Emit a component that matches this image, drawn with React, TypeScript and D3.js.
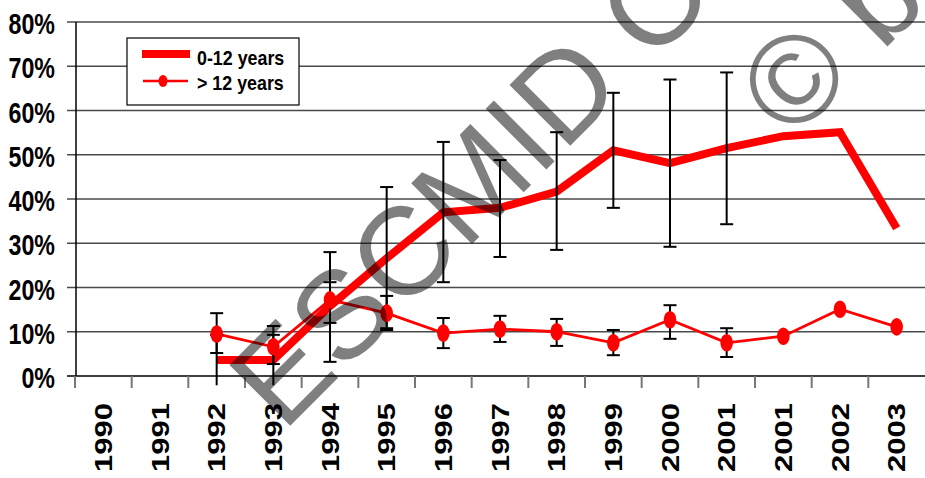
import React from "react";
import * as d3 from "d3";

const years = ["1990", "1991", "1992", "1993", "1994", "1995", "1996", "1997", "1998", "1999", "2000", "2001", "2001", "2002", "2003"];
const yTicks = [0, 10, 20, 30, 40, 50, 60, 70, 80];

// 0-12 years
const kidsValue: (number | null)[] = [null, null, 3.6, 3.6, 15.8, 26.6, 37, 38, 41.7, 51, 48.1, 51.5, 54.2, 55.1, 33.4];
const kidsLow: (number | null)[] = [null, null, -2.1, -2.1, 3.2, 10.4, 21.2, 26.9, 28.5, 38, 29.2, 34.3, null, null, null];
const kidsHigh: (number | null)[] = [null, null, 9.3, 9.3, 28, 42.7, 52.9, 48.8, 55.1, 64, 67, 68.6, null, null, null];

// > 12 years
const adultValue: (number | null)[] = [null, null, 9.5, 6.6, 17.2, 14.2, 9.7, 10.6, 10.0, 7.5, 12.7, 7.5, 9.0, 15.1, 11.1];
const adultLow: (number | null)[] = [null, null, 5.2, 2.7, 12.0, 10.8, 6.3, 7.7, 6.8, 4.7, 8.4, 4.3, null, null, null];
const adultHigh: (number | null)[] = [null, null, 14.2, 11.3, 21.2, 18.1, 13.1, 13.6, 12.9, 10.4, 16.0, 10.8, null, null, null];

const seriesNames = ["0-12 years", "> 12 years"];
const watermarkLines = ["ESCMID Online Lecture Library", "\u00A9 by author"];

const W = 925;
const H = 478;

export default function App() {
  const idx = years.map((_, i) => String(i));
  const x = d3.scaleBand<string>().domain(idx).range([75, 925]).padding(0);
  const y = d3.scaleLinear().domain([0, 80]).range([376, 22]);
  const cx = (i: number) => (x(String(i)) as number) + x.bandwidth() / 2;

  const lineGen = d3
    .line<[number, number | null]>()
    .defined((d) => d[1] !== null)
    .x((d) => cx(d[0]))
    .y((d) => y(d[1] as number));

  const kidsPath = lineGen(kidsValue.map((v, i) => [i, v]));
  const adultPath = lineGen(adultValue.map((v, i) => [i, v]));

  const font = "'Liberation Sans', Arial, sans-serif";
  const capW = 6.5;

  const errorBars = (vals: (number | null)[], lo: (number | null)[], hi: (number | null)[], key: string) =>
    vals.map((v, i) => {
      if (v === null || lo[i] === null || hi[i] === null) return null;
      const l = lo[i] as number;
      const h = hi[i] as number;
      const xc = cx(i);
      return (
        <g key={key + i} stroke="#000" strokeWidth={2}>
          <line x1={xc} x2={xc} y1={y(l)} y2={y(h)} />
          <line x1={xc - capW} x2={xc + capW} y1={y(h)} y2={y(h)} />
          {l >= 0 && <line x1={xc - capW} x2={xc + capW} y1={y(l)} y2={y(l)} />}
        </g>
      );
    });

  return (
    <svg width={W} height={H} style={{ position: "absolute", left: 0, top: 0, background: "#fff" }}>
      <rect x={0} y={0} width={W} height={H} fill="#fff" />
      {/* gridlines */}
      {yTicks.map((t) => (
        <line key={"g" + t} x1={67} x2={925} y1={y(t)} y2={y(t)} stroke={t === 0 ? "#000" : "#4a4a4a"} strokeWidth={1.5} />
      ))}
      {/* y axis */}
      <line x1={76} x2={76} y1={y(80)} y2={y(0)} stroke="#000" strokeWidth={1.5} />
      {/* x ticks */}
      {years.map((_, i) => (
        <line key={"xt" + i} x1={x(String(i)) as number} x2={x(String(i)) as number} y1={376} y2={388} stroke="#777" strokeWidth={2} />
      ))}
      {/* y labels */}
      {yTicks.map((t) => (
        <text
          key={"yl" + t}
          transform={`translate(55,${y(t) + 12}) scale(0.8,1)`}
          textAnchor="end"
          fontFamily={font}
          fontWeight="bold"
          fontSize={29}
          fill="#000"
        >
          {t + "%"}
        </text>
      ))}
      {/* x labels */}
      {years.map((yr, i) => (
        <text
          key={"xl" + i}
          transform={`translate(${cx(i) + 8.6},403) scale(0.78,1) rotate(-90)`}
          textAnchor="end"
          fontFamily={font}
          fontWeight="bold"
          fontSize={31}
          fill="#000"
        >
          {yr}
        </text>
      ))}
      {/* lines */}
      <path d={kidsPath || ""} fill="none" stroke="#ff0000" strokeWidth={8} strokeLinejoin="miter" strokeLinecap="butt" />
      <path d={adultPath || ""} fill="none" stroke="#ff0000" strokeWidth={2.8} />
      {/* error bars */}
      {errorBars(kidsValue, kidsLow, kidsHigh, "ek")}
      {errorBars(adultValue, adultLow, adultHigh, "ea")}
      {/* markers */}
      {adultValue.map((v, i) =>
        v === null ? null : <ellipse key={"m" + i} cx={cx(i)} cy={y(v)} rx={6.3} ry={8.8} fill="#ff0000" />
      )}
      {/* legend */}
      <g>
        <rect x={127} y={38} width={172} height={67} fill="#fff" stroke="#000" strokeWidth={1.2} />
        <line x1={142} x2={190} y1={54} y2={54} stroke="#ff0000" strokeWidth={8} />
        <line x1={143} x2={188} y1={81} y2={81} stroke="#ff0000" strokeWidth={2.5} />
        <ellipse cx={163} cy={81} rx={4.5} ry={6} fill="#ff0000" />
        <text transform="translate(197,65) scale(0.85,1)" fontFamily={font} fontWeight="bold" fontSize={21} fill="#000">
          {seriesNames[0]}
        </text>
        <text transform="translate(197,90) scale(0.85,1)" fontFamily={font} fontWeight="bold" fontSize={21} fill="#000">
          {seriesNames[1]}
        </text>
      </g>
      {/* watermark */}
      <g fill="#000" fillOpacity={0.5} fontFamily={font} fontSize={125}>
        <text transform="translate(283,433) rotate(-45)">{watermarkLines[0]}</text>
        <text transform="translate(792,142) rotate(-45)">{watermarkLines[1]}</text>
      </g>
    </svg>
  );
}
